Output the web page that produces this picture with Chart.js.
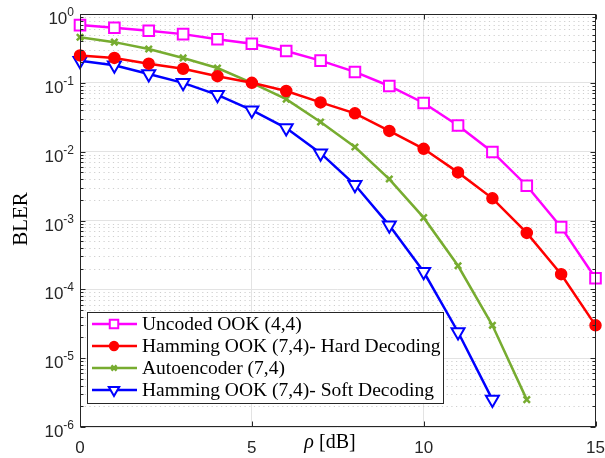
<!DOCTYPE html>
<html lang="en">

<head>
    <meta charset="UTF-8">
    <title>BLER vs rho</title>
    <script src="https://cdn.jsdelivr.net/npm/chart.js"></script>
    <style>
        body { margin: 0; background: #fff; }
        canvas { display: block; }
    </style>
</head>

<body>
    <canvas id="blerChart" width="605" height="458"></canvas>

    <script>
        // data
        const rho = [0, 1, 2, 3, 4, 5, 6, 7, 8, 9, 10, 11, 12, 13, 14, 15];
        const uncoded = [0.69, 0.63, 0.57, 0.51, 0.43, 0.37, 0.29, 0.21, 0.144, 0.09, 0.051, 0.024, 0.0099, 0.0032, 0.0008, 0.000145];
        const hardDecoding = [0.25, 0.23, 0.19, 0.16, 0.125, 0.1, 0.076, 0.052, 0.036, 0.02, 0.011, 0.005, 0.0021, 0.00066, 0.000166, 0.00003];
        const autoencoder = [0.46, 0.39, 0.31, 0.23, 0.164, 0.1, 0.058, 0.027, 0.0117, 0.004, 0.0011, 0.00022, 0.00003, 0.0000025];
        const softDecoding = [0.21, 0.18, 0.134, 0.1, 0.067, 0.04, 0.022, 0.0095, 0.0033, 0.00085, 0.00018, 0.000024, 0.0000025];

        const seriesNames = ['Uncoded OOK (4,4)', 'Hamming OOK (7,4)- Hard Decoding', 'Autoencoder (7,4)', 'Hamming OOK (7,4)- Soft Decoding'];
        const xTicks = [0, 5, 10, 15];
        const yTicks = [-6, -5, -4, -3, -2, -1, 0]; // exponents

        const axisColor = '#262626';
        const sans = '"Liberation Sans", Arial, sans-serif';
        const serif = '"Liberation Serif", "Times New Roman", serif';

        function pts(arr) {
            return arr.map((v, i) => ({ x: rho[i], y: v }));
        }

        // axes box, minor grid, tick labels, titles and legend, MATLAB style
        const matlabAxes = {
            id: 'matlabAxes',
            beforeDatasetsDraw(chart) {
                const { ctx, chartArea: a, scales } = chart;
                const ys = scales.y;
                ctx.save();
                // dotted minor grid
                ctx.strokeStyle = '#cfcfcf';
                ctx.lineWidth = 1;
                ctx.setLineDash([1.2, 3.5]);
                for (let k = -6; k < 0; k++) {
                    for (let m = 2; m <= 9; m++) {
                        const y = Math.round(ys.getPixelForValue(m * Math.pow(10, k))) + 0.5;
                        ctx.beginPath();
                        ctx.moveTo(a.left, y);
                        ctx.lineTo(a.right, y);
                        ctx.stroke();
                    }
                }
                ctx.restore();
            },
            afterDatasetsDraw(chart) {
                const { ctx, chartArea: a, scales } = chart;
                const xs = scales.x, ys = scales.y;
                ctx.save();
                ctx.strokeStyle = axisColor;
                ctx.lineWidth = 1;
                ctx.setLineDash([]);
                const L = Math.round(a.left) + 0.5, R = Math.round(a.right) - 0.5;
                const T = Math.round(a.top) + 0.5, B = Math.round(a.bottom) - 0.5;
                ctx.strokeRect(L, T, R - L, B - T);

                // y ticks, both sides
                ctx.beginPath();
                for (let k = -6; k <= 0; k++) {
                    for (let m = 1; m <= 9; m++) {
                        if (k === 0 && m > 1) break;
                        const y = Math.round(ys.getPixelForValue(m * Math.pow(10, k))) + 0.5;
                        const len = m === 1 ? 5 : 3;
                        ctx.moveTo(L, y); ctx.lineTo(L + len, y);
                        ctx.moveTo(R, y); ctx.lineTo(R - len, y);
                    }
                }
                // x ticks, top and bottom
                xTicks.forEach(v => {
                    const x = Math.round(xs.getPixelForValue(v)) + 0.5;
                    ctx.moveTo(x, B); ctx.lineTo(x, B - 5);
                    ctx.moveTo(x, T); ctx.lineTo(x, T + 5);
                });
                ctx.stroke();

                // tick labels
                ctx.fillStyle = axisColor;
                ctx.font = '17px ' + sans;
                ctx.textAlign = 'center';
                ctx.textBaseline = 'alphabetic';
                xTicks.forEach(v => ctx.fillText(String(v), xs.getPixelForValue(v), a.bottom + 26));

                yTicks.forEach(k => {
                    const y = ys.getPixelForValue(Math.pow(10, k));
                    const e = String(k);
                    ctx.font = '12px ' + sans;
                    const ew = ctx.measureText(e).width;
                    ctx.textAlign = 'left';
                    ctx.fillText(e, 74 - ew, y + 2);
                    ctx.font = '17px ' + sans;
                    ctx.textAlign = 'right';
                    ctx.fillText('10', 74 - ew, y + 10);
                });

                // axis titles
                ctx.fillStyle = '#000';
                ctx.textBaseline = 'alphabetic';
                ctx.font = 'italic 20px ' + serif;
                const wr = ctx.measureText('\u03c1').width;
                ctx.font = '20px ' + serif;
                const wd = ctx.measureText(' [dB]').width;
                const x0 = 330 - (wr + wd) / 2;
                ctx.textAlign = 'left';
                ctx.font = 'italic 20px ' + serif;
                ctx.fillText('\u03c1', x0, a.bottom + 21);
                ctx.font = '20px ' + serif;
                ctx.fillText(' [dB]', x0 + wr, a.bottom + 21);

                ctx.save();
                ctx.translate(27, 219);
                ctx.rotate(-Math.PI / 2);
                ctx.textAlign = 'center';
                ctx.font = '21px ' + serif;
                ctx.fillText('BLER', 0, 0);
                ctx.restore();

                // legend
                const lx = 87.5, ly = 312.5, lw = 356, lh = 91;
                ctx.fillStyle = '#fff';
                ctx.fillRect(lx, ly, lw, lh);
                ctx.strokeStyle = axisColor;
                ctx.strokeRect(lx, ly, lw, lh);
                chart.data.datasets.forEach((ds, i) => {
                    const y = 324 + i * 22;
                    ctx.strokeStyle = ds.borderColor;
                    ctx.lineWidth = ds.borderWidth;
                    ctx.beginPath();
                    ctx.moveTo(92, y);
                    ctx.lineTo(137, y);
                    ctx.stroke();
                    ctx.fillStyle = ds.pointBackgroundColor;
                    ctx.strokeStyle = ds.borderColor;
                    ctx.lineWidth = ds.pointBorderWidth;
                    Chart.helpers.drawPoint(ctx, {
                        pointStyle: ds.pointStyle,
                        rotation: ds.pointRotation || 0,
                        radius: ds.pointRadius * 0.8,
                        borderWidth: ds.pointBorderWidth
                    }, 114, y);
                    ctx.fillStyle = '#000';
                    ctx.font = '19.5px ' + serif;
                    ctx.textAlign = 'left';
                    ctx.textBaseline = 'middle';
                    ctx.fillText(seriesNames[i], 142, y + 1);
                });
                ctx.restore();
            }
        };

        const ctx = document.getElementById('blerChart').getContext('2d');
        const blerChart = new Chart(ctx, {
            type: 'line',
            data: {
                datasets: [{
                    label: seriesNames[0],
                    data: pts(uncoded),
                    borderColor: '#ff00ff',
                    pointBackgroundColor: '#ffffff',
                    pointStyle: 'rect',
                    pointRadius: 7.5,
                    pointBorderWidth: 2
                }, {
                    label: seriesNames[1],
                    data: pts(hardDecoding),
                    borderColor: '#ff0000',
                    pointBackgroundColor: '#ff0000',
                    pointStyle: 'circle',
                    pointRadius: 5.5,
                    pointBorderWidth: 1.5
                }, {
                    label: seriesNames[2],
                    data: pts(autoencoder),
                    borderColor: '#77ac30',
                    pointBackgroundColor: '#77ac30',
                    pointStyle: 'crossRot',
                    pointRadius: 4.5,
                    pointBorderWidth: 2.5
                }, {
                    label: seriesNames[3],
                    data: pts(softDecoding),
                    borderColor: '#0000ff',
                    pointBackgroundColor: '#ffffff',
                    pointStyle: 'triangle',
                    pointRotation: 180,
                    pointRadius: 7.5,
                    pointBorderWidth: 2
                }].map(ds => Object.assign({ borderWidth: 2.5, tension: 0, clip: false, fill: false }, ds))
            },
            options: {
                responsive: false,
                devicePixelRatio: 1,
                animation: false,
                layout: { padding: { left: 80, right: 9, top: 14, bottom: 31 } },
                plugins: { legend: { display: false }, tooltip: { enabled: false } },
                scales: {
                    x: {
                        type: 'linear',
                        min: 0,
                        max: 15,
                        ticks: { display: false, stepSize: 5 },
                        grid: { color: '#e3e3e3', drawTicks: false },
                        border: { display: false }
                    },
                    y: {
                        type: 'logarithmic',
                        min: 1e-6,
                        max: 1,
                        ticks: { display: false },
                        grid: {
                            drawTicks: false,
                            color: c => {
                                const v = c.tick ? Math.log10(c.tick.value) : 0.5;
                                return Math.abs(v - Math.round(v)) < 1e-6 ? '#e3e3e3' : 'rgba(0,0,0,0)';
                            }
                        },
                        border: { display: false }
                    }
                }
            },
            plugins: [matlabAxes]
        });
    </script>

</body>

</html>
